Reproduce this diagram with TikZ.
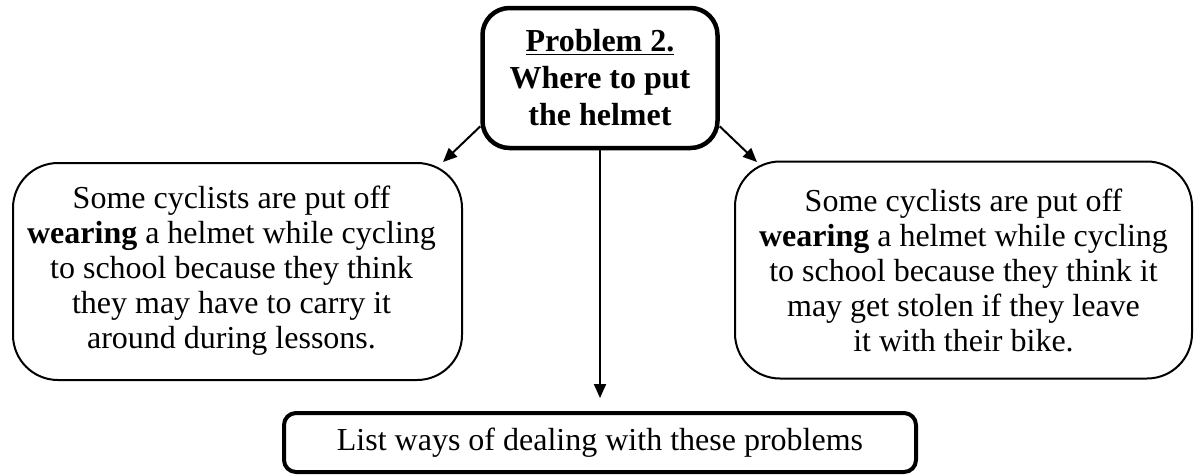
\documentclass[tikz,border=0pt]{standalone}
\usepackage{fontspec}
\setmainfont{Liberation Serif}
\usetikzlibrary{arrows.meta}
\begin{document}
\begin{tikzpicture}[x=1pt,y=-1pt,
  every node/.style={font=\fontsize{32}{35}\selectfont, align=center, inner sep=0pt},
  card/.style={draw, line width=2pt, rounded corners=45pt,
               minimum height=217pt},
  headbox/.style={draw, line width=4.5pt, rounded corners=27pt,
               minimum width=235pt, minimum height=140pt,
               font=\fontsize{32}{37}\selectfont\bfseries},
  taskbox/.style={draw, line width=4pt, rounded corners=12pt,
               minimum width=632pt, minimum height=59pt},
  arr/.style={line width=2pt, -{Triangle[length=14pt,width=12pt]}}]
\useasboundingbox (0,0) rectangle (1195,475);

% central problem
\node[headbox] (head) at (600,78)
  {\underline{Problem 2.}\\Where to put\\the helmet};

% the two reasons
\node[card, minimum width=449pt] (left) at (237.5,271.5)
  {\hspace*{-6pt}\begin{tabular}{@{}c@{}}Some cyclists are put off\\
  \textbf{wearing} a helmet while cycling\\
  to school because they think\\
  they may have to carry it\\
  around during lessons.\end{tabular}\hspace*{6pt}};
\node[card, minimum width=457pt] (right) at (963.5,270)
  {Some cyclists are put off\\
  \textbf{wearing} a helmet while cycling\\
  to school because they think it\\
  may get stolen if they leave\\
  it with their bike.};

% task
\node[taskbox] (task) at (600,442.5) {List ways of dealing with these problems};

% connectors
\coordinate (ltip) at (443,162);
\coordinate (rtip) at (757,162);
\draw[arr] (head.202.6) -- (ltip);
\draw[arr] (head.-22.6) -- (rtip);
\draw[arr, shorten >=13pt] (head.south) -- (task.north);
\end{tikzpicture}
\end{document}
